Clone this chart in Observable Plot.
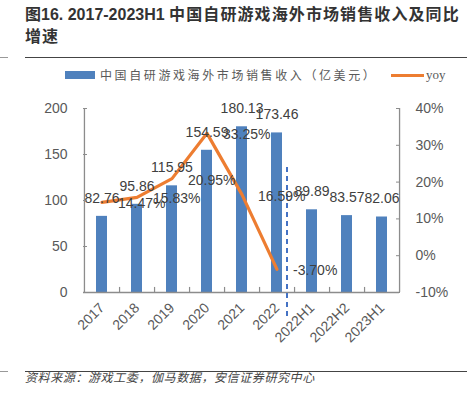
<!DOCTYPE html>
<html>
<head>
<meta charset="utf-8">
<script src="https://cdn.jsdelivr.net/npm/d3@7"></script>
<script src="https://cdn.jsdelivr.net/npm/@observablehq/plot@0.6"></script>
<style>
  html, body { margin: 0; padding: 0; background: #fff; }
  #page { position: relative; width: 470px; height: 397px; overflow: hidden; font-family: "Liberation Sans", "Noto Sans CJK SC", sans-serif; }
  .title { position: absolute; left: 25px; top: 4px; width: 445px; font-size: 16px; font-weight: bold; color: #333; line-height: 22px; font-family: "Liberation Sans", "Noto Sans CJK SC", sans-serif; white-space: nowrap; }
  .title .cjk { letter-spacing: 1.1px; }
  .rule { position: absolute; height: 1.5px; background: #444; }
  .stub { position: absolute; height: 1px; background: #999; }
  .legend-bar { position: absolute; left: 65px; top: 71px; width: 30px; height: 8px; background: #4F81BD; }
  .legend-text { position: absolute; left: 100px; top: 66px; font-size: 12px; letter-spacing: 2.6px; color: #595959; font-family: "Noto Sans CJK SC", sans-serif; line-height: 18px; white-space: nowrap; }
  .legend-line { position: absolute; left: 391px; top: 73.5px; width: 33px; height: 3px; background: #ED7D31; }
  .legend-yoy { position: absolute; left: 426px; top: 66px; font-size: 13px; color: #595959; font-family: "Liberation Serif", serif; line-height: 18px; }
  #chart { position: absolute; left: 0; top: 90px; }
  .caption { position: absolute; left: 25px; top: 369px; font-size: 12px; font-style: italic; color: #444; font-family: "Noto Sans CJK SC", sans-serif; line-height: 16px; letter-spacing: 0.6px; white-space: nowrap; }
</style>
</head>
<body>
<div id="page">
  <div class="title">图16. 2017-2023H1 <span class="cjk">中国自研游戏海外市场销售收入及同比</span><br><span class="cjk">增速</span></div>
  <div class="stub" style="left:0;top:57px;width:8px;"></div>
  <div class="rule" style="left:25px;top:56.5px;width:442px;"></div>
  <div class="legend-bar"></div>
  <div class="legend-text">中国自研游戏海外市场销售收入（亿美元）</div>
  <div class="legend-line"></div>
  <div class="legend-yoy">yoy</div>
  <div id="chart"></div>
  <div class="stub" style="left:0;top:371px;width:8px;"></div>
  <div class="rule" style="left:25px;top:370.5px;width:442px;"></div>
  <div class="caption">资料来源：游戏工委，伽马数据，安信证券研究中心</div>
</div>
<script>
// ---- data ----
const categories = ["2017", "2018", "2019", "2020", "2021", "2022", "2022H1", "2022H2", "2023H1"];
const revenue = [82.76, 95.86, 115.95, 154.59, 180.13, 173.46, 89.89, 83.57, 82.06];
const yoyCategories = ["2017", "2018", "2019", "2020", "2021", "2022"];
const yoy = [14.47, 15.83, 20.95, 33.25, 16.59, -3.70];
const leftTicks = [0, 50, 100, 150, 200];
const rightTicks = [-10, 0, 10, 20, 30, 40];
const dividerAfter = "2022";

// right axis (-10%..40%) mapped onto the left scale (0..200)
const toLeft = p => (p + 10) * 4;

const W = 470, H = 270;
const mL = 83, mR = 71, mT = 18, mB = 68;
const step = (W - mL - mR) / categories.length;
const axisColor = "#8c8c8c";

const bars = categories.map((c, i) => ({c, v: revenue[i]}));
const line = yoyCategories.map((c, i) => ({c, p: yoy[i]}));

const chart = Plot.plot({
  width: W, height: H,
  marginLeft: mL, marginRight: mR, marginTop: mT, marginBottom: mB,
  style: {fontFamily: "Liberation Sans, Arial, sans-serif", fontSize: "14px", color: "#595959", background: "transparent"},
  x: {type: "band", domain: categories, paddingInner: 0.69, paddingOuter: 0.345, axis: null, label: null},
  y: {domain: [0, 200], axis: null, label: null},
  marks: [
    Plot.barY(bars, {x: "c", y: "v", fill: "#4F81BD"}),
    // axis lines
    Plot.ruleY([0], {stroke: axisColor, strokeWidth: 1.3}),
    Plot.ruleX([categories[0]], {dx: -step / 2, y1: 0, y2: 200, stroke: axisColor, strokeWidth: 1.3}),
    Plot.ruleX([categories[categories.length - 1]], {dx: step / 2, y1: 0, y2: 200, stroke: axisColor, strokeWidth: 1.3}),
    // category boundary ticks (inward)
    Plot.ruleX(categories.slice(0, -1), {dx: step / 2, y1: 0, y2: 5.5, stroke: axisColor, strokeWidth: 1.2}),
    // divider
    Plot.ruleX([dividerAfter], {dx: 10, y1: -26, y2: 140, stroke: "#4472C4", strokeWidth: 2, strokeDasharray: "5,4"}),
    // yoy line
    Plot.lineY(line, {x: "c", y: d => toLeft(d.p), stroke: "#ED7D31", strokeWidth: 3.2, curve: "linear"}),
    // labels
    Plot.text(bars, {x: "c", y: "v", text: d => d.v.toFixed(2), dy: -18, fill: "#404040", fontSize: 14}),
    Plot.text(line, {x: "c", y: d => toLeft(d.p), text: d => d.p.toFixed(2) + "%", dx: 16, dy: 1.5, textAnchor: "start", fill: "#404040", fontSize: 14}),
    // axes
    Plot.axisY(leftTicks, {anchor: "left", label: null, tickSize: -4, tickPadding: 20, stroke: axisColor, fill: "#595959", fontSize: 14}),
    Plot.axisY(rightTicks.map(toLeft), {anchor: "right", label: null, tickSize: -4, tickPadding: 20, tickFormat: d => (d / 4 - 10) + "%", stroke: axisColor, fill: "#595959", fontSize: 14}),
    Plot.axisX({label: null, tickSize: 0, tickPadding: 13, tickRotate: -45, fill: "#595959", fontSize: 14})
  ]
});
document.getElementById("chart").appendChild(chart);
</script>
</body>
</html>
